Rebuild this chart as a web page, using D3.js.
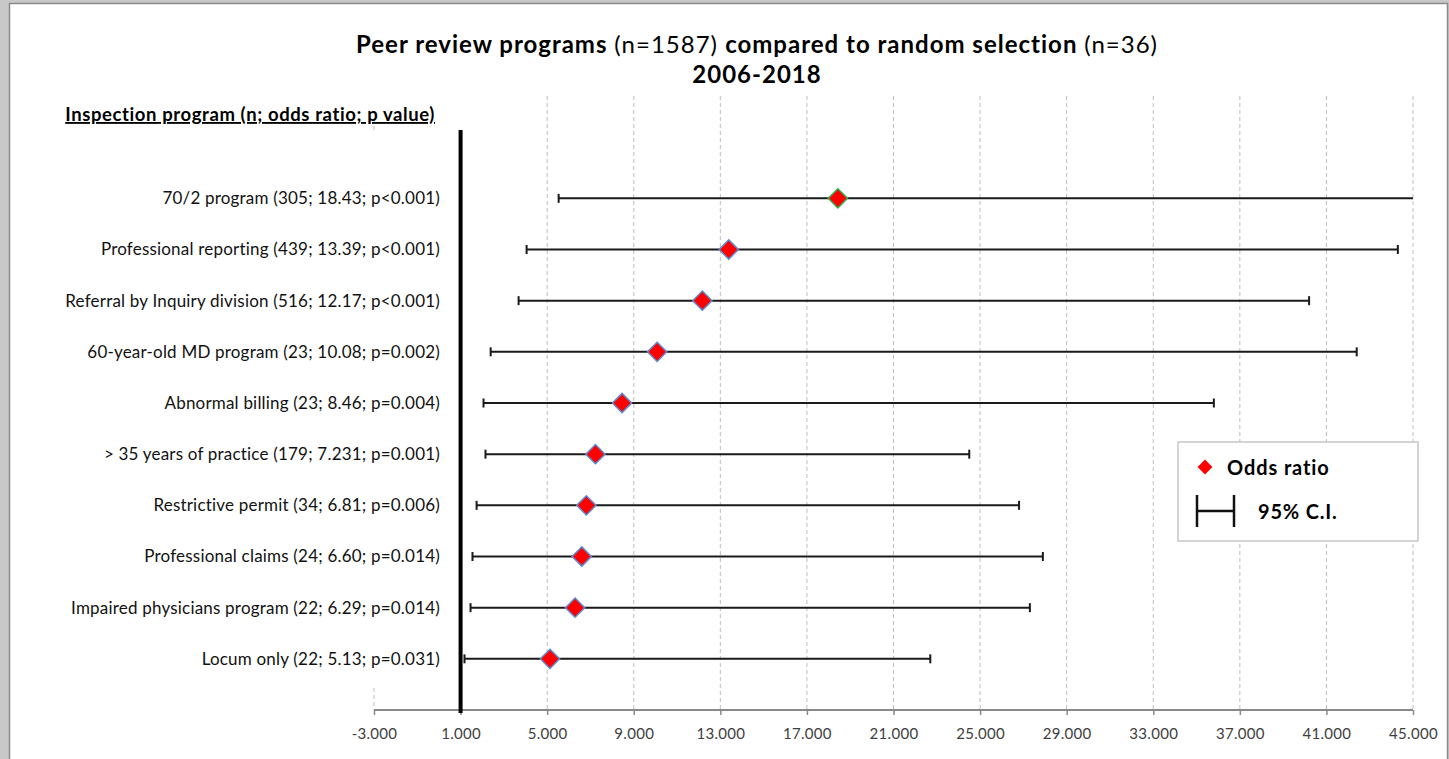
<!DOCTYPE html>
<html>
<head>
<meta charset="utf-8">
<script src="https://cdn.jsdelivr.net/npm/d3@7"></script>
<style>
  html, body { margin: 0; padding: 0; background: #c8c8c8; }
  svg { display: block; font-family: Lato, "Open Sans", sans-serif; }
</style>
</head>
<body>
<svg id="chart" width="1449" height="759"></svg>
<script>
// Inspection programs, top to bottom
const programs = [
  "70/2 program (305; 18.43; p<0.001)",
  "Professional reporting (439; 13.39; p<0.001)",
  "Referral by Inquiry division (516; 12.17; p<0.001)",
  "60-year-old MD program (23; 10.08; p=0.002)",
  "Abnormal billing (23; 8.46; p=0.004)",
  "> 35 years of practice (179; 7.231; p=0.001)",
  "Restrictive permit (34; 6.81; p=0.006)",
  "Professional claims (24; 6.60; p=0.014)",
  "Impaired physicians program (22; 6.29; p=0.014)",
  "Locum only (22; 5.13; p=0.031)"
];
const oddsRatio = [18.43, 13.39, 12.17, 10.08, 8.46, 7.231, 6.81, 6.60, 6.29, 5.13];
const ciLower   = [5.53, 4.05, 3.68, 2.39, 2.06, 2.15, 1.74, 1.55, 1.46, 1.18];
const ciUpper   = [61.6, 44.3, 40.2, 42.4, 35.8, 24.5, 26.8, 27.9, 27.3, 22.7];
const tickValues = [-3, 1, 5, 9, 13, 17, 21, 25, 29, 33, 37, 41, 45];
const xDomain = [-3, 45];
const referenceOR = 1;

const svg = d3.select("#chart");

// page frame
svg.append("rect").attr("x", 9.5).attr("y", 3.5).attr("width", 1438).attr("height", 760)
  .attr("fill", "#fff").attr("stroke", "#8a8a8a").attr("stroke-width", 1.5);

const x = d3.scaleLinear().domain(xDomain).range([374, 1413]);
// rows occupy positions 10..1 (top to bottom), axis at 0, top of plot at 12
const y = d3.scaleLinear().domain([0, 12]).range([710, 96]);
const rowPos = programs.map((d, i) => programs.length - i);

// title
const title = svg.append("text").attr("x", 757).attr("y", 53)
  .attr("text-anchor", "middle").attr("font-size", 24).attr("letter-spacing", 1).attr("fill", "#000");
title.append("tspan").attr("font-weight", "bold").text("Peer review programs ");
title.append("tspan").text("(n=1587) ");
title.append("tspan").attr("font-weight", "bold").text("compared to random selection ");
title.append("tspan").text("(n=36)");
svg.append("text").attr("x", 757).attr("y", 83).attr("text-anchor", "middle")
  .attr("font-size", 24).attr("letter-spacing", 1).attr("font-weight", "bold").text("2006-2018");

// vertical dashed gridlines
const grid = svg.append("g");
tickValues.forEach(t => {
  if (t === xDomain[0]) {
    // left edge gridline is partly covered by the label column
    [[y(12) + 34, y(11.6) ], [y(0.43), y(0)]].forEach(([a, b]) => {
      grid.append("line").attr("x1", x(t)).attr("x2", x(t)).attr("y1", a).attr("y2", b)
        .attr("stroke", "#bdbdbd").attr("stroke-width", 1).attr("stroke-dasharray", "4,3");
    });
  } else if (t !== referenceOR) {
    grid.append("line").attr("x1", x(t)).attr("x2", x(t)).attr("y1", y(12)).attr("y2", y(0))
      .attr("stroke", "#bdbdbd").attr("stroke-width", 1).attr("stroke-dasharray", "4,3");
  }
});

// x axis
const fmt = d3.format(".3f");
const xAxis = d3.axisBottom(x).tickValues(tickValues)
  .tickFormat(d => fmt(d).replace("\u2212", "-")).tickSize(5);
const ax = svg.append("g").attr("transform", `translate(0,${y(0)})`).call(xAxis);
ax.select(".domain").attr("stroke", "#898989").attr("stroke-width", 2)
  .attr("d", `M${x(xDomain[0])},0H${x(xDomain[1])}`);
ax.selectAll(".tick line").attr("stroke", "#898989").attr("stroke-width", 1.5);
ax.selectAll(".tick text").attr("font-size", 15).attr("letter-spacing", 0.3).attr("fill", "#404040")
  .attr("dy", "1.4em").style("font-family", "Lato, sans-serif");

// reference line at OR = 1
svg.append("line").attr("x1", x(referenceOR)).attr("x2", x(referenceOR))
  .attr("y1", 130).attr("y2", y(0) + 3).attr("stroke", "#000").attr("stroke-width", 4);

// header for the label column
svg.append("text").attr("x", 435).attr("y", 121).attr("text-anchor", "end")
  .attr("font-size", 18.5).attr("letter-spacing", 0.6).attr("font-weight", "bold")
  .attr("text-decoration", "underline")
  .text("Inspection program (n; odds ratio; p value)");

// program labels
svg.append("g").selectAll("text").data(programs).join("text")
  .attr("x", 440).attr("y", (d, i) => y(rowPos[i])).attr("dy", "0.35em")
  .attr("text-anchor", "end").attr("font-size", 17).attr("letter-spacing", 0.2)
  .attr("fill", "#111").text(d => d);

// confidence intervals
const ci = svg.append("g");
programs.forEach((d, i) => {
  const yy = y(rowPos[i]);
  const lo = Math.max(ciLower[i], xDomain[0]);
  const hi = Math.min(ciUpper[i], xDomain[1]);
  ci.append("line").attr("x1", x(lo)).attr("x2", x(hi)).attr("y1", yy).attr("y2", yy)
    .attr("stroke", "#1a1a1a").attr("stroke-width", 2);
  if (ciLower[i] >= xDomain[0]) {
    ci.append("line").attr("x1", x(ciLower[i])).attr("x2", x(ciLower[i]))
      .attr("y1", yy - 4.5).attr("y2", yy + 4.5).attr("stroke", "#1a1a1a").attr("stroke-width", 2);
  }
  if (ciUpper[i] <= xDomain[1]) {
    ci.append("line").attr("x1", x(ciUpper[i])).attr("x2", x(ciUpper[i]))
      .attr("y1", yy - 4.5).attr("y2", yy + 4.5).attr("stroke", "#1a1a1a").attr("stroke-width", 2);
  }
});

// odds ratio markers
const diamond = d3.symbol().type(d3.symbolSquare).size(185);
svg.append("g").selectAll("path").data(oddsRatio).join("path")
  .attr("d", diamond())
  .attr("transform", (d, i) => `translate(${x(d)},${y(rowPos[i])}) rotate(45)`)
  .attr("fill", "#ff0000")
  .attr("stroke", (d, i) => i === 0 ? "#2eb050" : "#5b8bd0")
  .attr("stroke-width", 1.5);

// legend
const lg = svg.append("g").attr("transform", "translate(1178,442)");
lg.append("rect").attr("width", 240).attr("height", 99)
  .attr("fill", "#fff").attr("stroke", "#c6c6c6").attr("stroke-width", 1.5);
lg.append("path").attr("d", d3.symbol().type(d3.symbolSquare).size(110)())
  .attr("transform", "translate(27,25) rotate(45)").attr("fill", "#ff0000");
lg.append("text").attr("x", 49).attr("y", 26).attr("dy", "0.35em")
  .attr("font-size", 20).attr("letter-spacing", 0.9).attr("font-weight", "bold").text("Odds ratio");
lg.append("path").attr("d", "M19,53V85M56,53V85M19,69H56")
  .attr("stroke", "#111").attr("stroke-width", 2.5).attr("fill", "none");
lg.append("text").attr("x", 80).attr("y", 70).attr("dy", "0.35em")
  .attr("font-size", 20).attr("letter-spacing", 0.8).attr("font-weight", "bold").text("95% C.I.");
</script>
</body>
</html>
